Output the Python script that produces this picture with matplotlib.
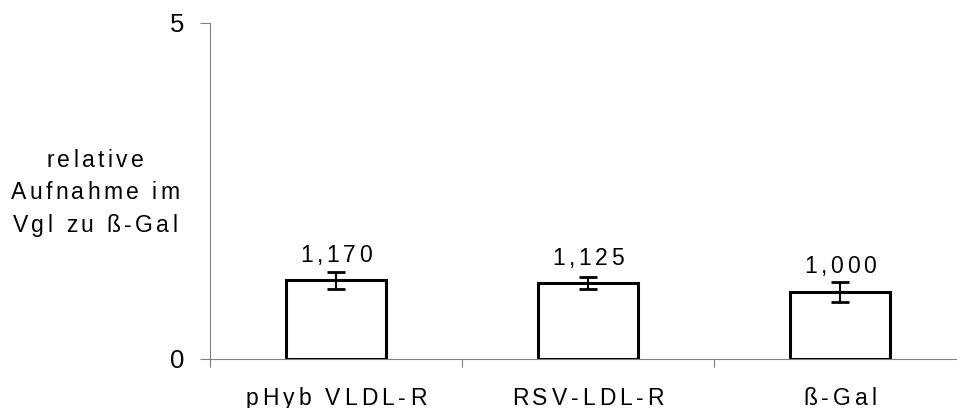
import matplotlib
matplotlib.use('Agg')
import matplotlib.pyplot as plt
from matplotlib import font_manager
from matplotlib.ft2font import FT2Font
import numpy as np

kategorien = ['pHyb VLDL-R', 'RSV-LDL-R', 'ß-Gal']
werte = [1.170, 1.125, 1.000]
fehler = [0.13, 0.09, 0.15]
wert_labels = ['1,170', '1,125', '1,000']
y_label = ['relative', 'Aufnahme im', 'Vgl zu ß-Gal']

plt.rcParams['font.family'] = ['Liberation Sans', 'DejaVu Sans']
schrift = font_manager.findfont(font_manager.FontProperties(family='Liberation Sans'))
PX = 100 / 72  # Pixel pro Punkt
GROESSE = 16.5


def sperr_text(ax, xy, xycoords, s, size, sperr_px, dy_pt=0):
    # Text mit Zeichenabstand, Zeichen einzeln gesetzt
    font = FT2Font(schrift)
    font.set_size(size, 72)
    vor = [font.load_char(ord(c)).linearHoriAdvance / 65536 for c in s]
    sperr = sperr_px / PX
    gesamt = sum(vor) + sperr * (len(s) - 1)
    pos = -gesamt / 2
    for c, v in zip(s, vor):
        if c != ' ':
            ax.annotate(c, xy=xy, xycoords=xycoords, xytext=(pos, dy_pt),
                        textcoords='offset points', ha='left', va='baseline',
                        fontsize=size, annotation_clip=False)
        pos += v + sperr


fig = plt.figure(figsize=(9.57, 4.08), dpi=100)
ax = fig.add_axes([210/957, 1 - 359/408, (957 - 210)/957, (359 - 23)/408])

x = np.arange(len(werte))
ax.bar(x, werte, width=0.4, color='white', edgecolor='black', linewidth=2.2, zorder=2)
ax.errorbar(x, werte, yerr=fehler, fmt='none', ecolor='black', elinewidth=1.5,
            capsize=6.4, capthick=2, zorder=3)

for xi, w, t in zip(x, werte, wert_labels):
    sperr_text(ax, (xi, w), 'data', t, GROESSE, 3.5, dy_pt=18.5 / PX)

for xi, k in zip(x, kategorien):
    sperr_text(ax, (xi, 0), 'data', k, GROESSE, 3.9, dy_pt=-45.7 / PX)

for i, z in enumerate(y_label):
    sperr_text(ax, (95, 408 - (167 + 32.3 * i)), 'figure pixels', z, GROESSE, 3.4)

ax.set_xlim(-0.5, -0.5 + 3 * (957 - 210) / 756)
ax.set_ylim(0, 5)
ax.set_yticks([0, 5])
ax.set_yticklabels(['0', '5'], fontsize=18.5)
ax.set_xticks([-0.5, 0.5, 1.5])
ax.set_xticklabels([])
ax.tick_params(axis='x', length=8 / PX, color='#808080', width=0.8)
ax.tick_params(axis='y', length=10 / PX, color='#808080', width=0.8, pad=16 / PX)

for s in ['top', 'right']:
    ax.spines[s].set_visible(False)
for s in ['left', 'bottom']:
    ax.spines[s].set_color('#808080')
    ax.spines[s].set_linewidth(0.8)

fig.savefig('out.png', dpi=100)
